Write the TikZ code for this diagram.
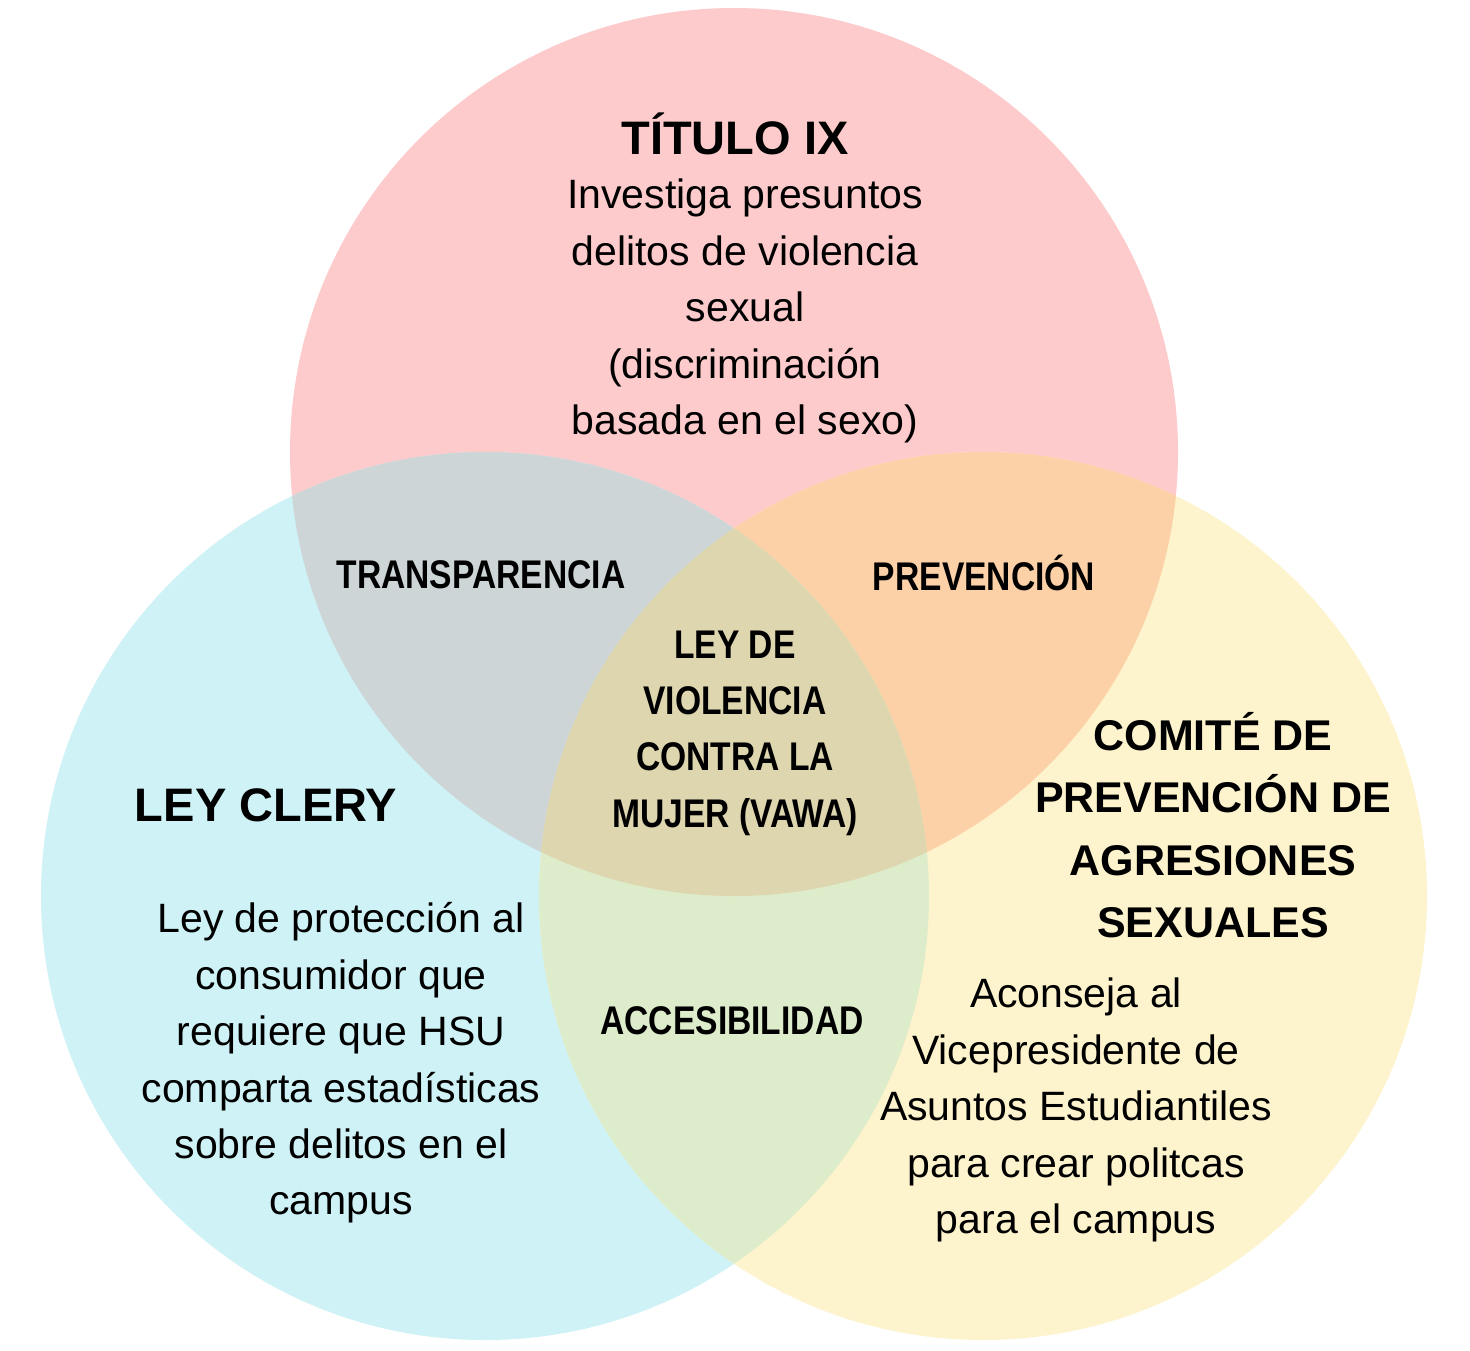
\documentclass[tikz,border=0pt]{standalone}
\usepackage{fontspec}
\setmainfont{Liberation Sans}
\newfontfamily\condfont{Liberation Sans}[FakeStretch=0.84]
\definecolor{cpink}{RGB}{253,203,203}
\definecolor{ccyan}{RGB}{206,242,245}
\definecolor{cyellow}{RGB}{253,243,204}
\definecolor{cgray}{RGB}{205,213,214}
\definecolor{corange}{RGB}{252,209,167}
\definecolor{cgreen}{RGB}{221,236,202}
\definecolor{ccenter}{RGB}{221,214,175}
\tikzset{
  titletxt/.style={font=\bfseries\fontsize{23.5}{28}\selectfont, align=center, inner sep=0pt},
  comitetxt/.style={font=\bfseries\fontsize{21.5}{31.2}\selectfont, align=center, inner sep=0pt},
  bodytxt/.style={font=\fontsize{20.5}{28.2}\selectfont, align=center, inner sep=0pt},
  condtxt/.style={font=\condfont\bfseries\fontsize{20}{28.2}\selectfont, align=center, inner sep=0pt}
}
\begin{document}
\begin{tikzpicture}[x=0.5pt,y=-0.5pt]
\useasboundingbox (0,0) rectangle (1470,1350);
\fill[white] (0,0) rectangle (1470,1350);
% circles
\coordinate (ctop) at (734,452);
\coordinate (cleft) at (485,896);
\coordinate (cright) at (983,896);
\fill[cpink] (ctop) circle[radius=222pt];
\fill[ccyan] (cleft) circle[radius=222pt];
\fill[cyellow] (cright) circle[radius=222pt];
\begin{scope}
  \clip (ctop) circle[radius=222pt];
  \fill[cgray] (cleft) circle[radius=222pt];
\end{scope}
\begin{scope}
  \clip (ctop) circle[radius=222pt];
  \fill[corange] (cright) circle[radius=222pt];
\end{scope}
\begin{scope}
  \clip (cleft) circle[radius=222pt];
  \fill[cgreen] (cright) circle[radius=222pt];
\end{scope}
\begin{scope}
  \clip (ctop) circle[radius=222pt];
  \clip (cleft) circle[radius=222pt];
  \fill[ccenter] (cright) circle[radius=222pt];
\end{scope}
% texts
\node[titletxt] (titulo) at (735,134) {TÍTULO IX};
\node[bodytxt] (tituloBody) at (745,311) {Investiga presuntos\\delitos de violencia\\sexual\\(discriminación\\basada en el sexo)};
\node[condtxt] (transp) at (481,575) {TRANSPARENCIA};
\node[condtxt] (prev) at (984,573) {PREVENCIÓN};
\node[condtxt] (vawa) at (735,733) {LEY DE\\VIOLENCIA\\CONTRA LA\\MUJER (VAWA)};
\node[condtxt] (acces) at (732,1021) {ACCESIBILIDAD};
\node[titletxt] (clery) at (266,805) {LEY CLERY};
\node[bodytxt] (cleryBody) at (341,1063) {Ley de protección al\\consumidor que\\requiere que HSU\\comparta estadísticas\\sobre delitos en el\\campus};
\node[comitetxt] (comite) at (1213,825) {COMITÉ DE\\PREVENCIÓN DE\\AGRESIONES\\SEXUALES};
\node[bodytxt] (comiteBody) at (1076,1110) {Aconseja al\\Vicepresidente de\\Asuntos Estudiantiles\\para crear politcas\\para el campus};
\end{tikzpicture}
\end{document}
